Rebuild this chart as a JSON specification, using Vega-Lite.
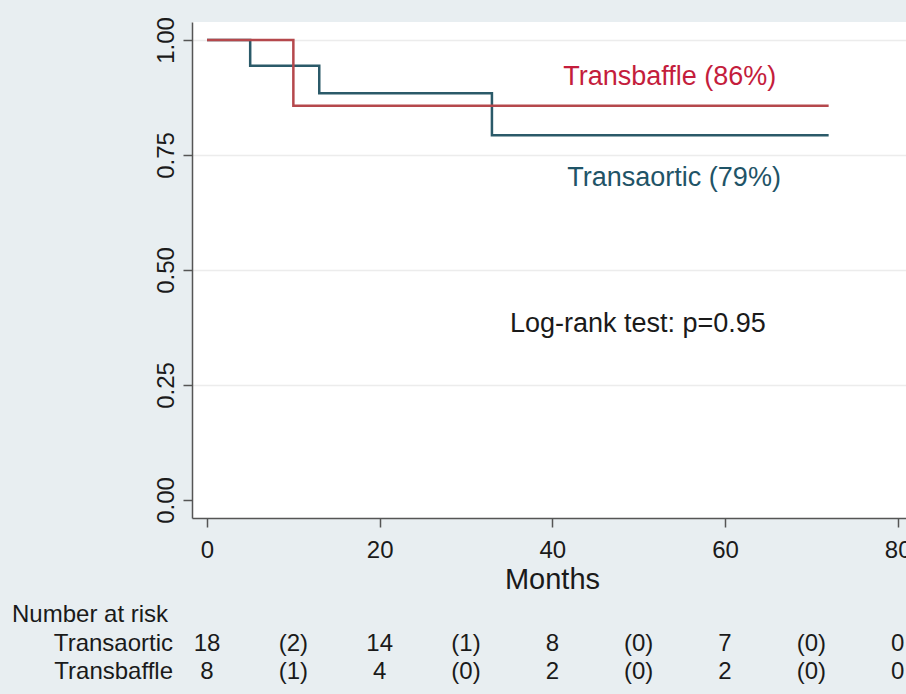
{
  "$schema": "https://vega.github.io/schema/vega-lite/v6.json",
  "width": 714,
  "height": 496,
  "autosize": {"type": "none"},
  "padding": {"left": 192, "top": 22, "right": 0, "bottom": 176},
  "background": "#e8eef1",
  "config": {
    "view": {"stroke": null, "fill": "#ffffff"},
    "font": "Liberation Sans",
    "text": {"font": "Liberation Sans"}
  },
  "datasets": {
    "km": [
      {"group": "Transaortic", "month": 0, "survival": 1.0},
      {"group": "Transaortic", "month": 5, "survival": 0.944},
      {"group": "Transaortic", "month": 13, "survival": 0.884},
      {"group": "Transaortic", "month": 33, "survival": 0.793},
      {"group": "Transaortic", "month": 72, "survival": 0.793},
      {"group": "Transbaffle", "month": 0, "survival": 1.0},
      {"group": "Transbaffle", "month": 10, "survival": 0.857},
      {"group": "Transbaffle", "month": 72, "survival": 0.857}
    ],
    "risk": [
      {"group": "Transaortic", "month": 0, "n": "18"},
      {"group": "Transaortic", "month": 10, "n": "(2)"},
      {"group": "Transaortic", "month": 20, "n": "14"},
      {"group": "Transaortic", "month": 30, "n": "(1)"},
      {"group": "Transaortic", "month": 40, "n": "8"},
      {"group": "Transaortic", "month": 50, "n": "(0)"},
      {"group": "Transaortic", "month": 60, "n": "7"},
      {"group": "Transaortic", "month": 70, "n": "(0)"},
      {"group": "Transaortic", "month": 80, "n": "0"},
      {"group": "Transbaffle", "month": 0, "n": "8"},
      {"group": "Transbaffle", "month": 10, "n": "(1)"},
      {"group": "Transbaffle", "month": 20, "n": "4"},
      {"group": "Transbaffle", "month": 30, "n": "(0)"},
      {"group": "Transbaffle", "month": 40, "n": "2"},
      {"group": "Transbaffle", "month": 50, "n": "(0)"},
      {"group": "Transbaffle", "month": 60, "n": "2"},
      {"group": "Transbaffle", "month": 70, "n": "(0)"},
      {"group": "Transbaffle", "month": 80, "n": "0"}
    ],
    "groups": [
      {"group": "Transaortic"},
      {"group": "Transbaffle"}
    ],
    "header": [
      {"group": "Number at risk"}
    ]
  },
  "layer": [
    {
      "layer": [
        {
          "data": {"name": "km"},
          "mark": {"type": "line", "interpolate": "step-after", "strokeWidth": 2.5},
          "encoding": {
            "x": {
              "field": "month",
              "type": "quantitative",
              "scale": {"domain": [-1.74, 80.96], "nice": false, "zero": false},
              "axis": {
                "values": [0, 20, 40, 60, 80],
                "title": "Months",
                "titleFontSize": 29,
                "titleFontWeight": "normal",
                "titleColor": "#1a1a1a",
                "titleX": 360,
                "titleY": 70,
                "titleAlign": "center",
                "titleBaseline": "alphabetic",
                "labelFontSize": 24,
                "labelColor": "#1a1a1a",
                "labelPadding": 11,
                "labelBaseline": "top",
                "labelFlush": false,
                "labelOverlap": false,
                "tickSize": 9,
                "tickColor": "#555555",
                "tickWidth": 1.5,
                "domainColor": "#555555",
                "domainWidth": 1.5,
                "grid": false
              }
            },
            "y": {
              "field": "survival",
              "type": "quantitative",
              "scale": {"domain": [-0.0391, 1.0391], "nice": false, "zero": false},
              "axis": {
                "values": [0, 0.25, 0.5, 0.75, 1],
                "format": ".2f",
                "title": null,
                "labelAngle": -90,
                "labelAlign": "center",
                "labelBaseline": "alphabetic",
                "labelPadding": 10,
                "labelFontSize": 24,
                "labelColor": "#1a1a1a",
                "labelFlush": false,
                "labelOverlap": false,
                "tickSize": 9,
                "tickColor": "#555555",
                "tickWidth": 1.5,
                "domainColor": "#555555",
                "domainWidth": 1.5,
                "grid": true,
                "gridColor": {"condition": {"test": "datum.value == 0", "value": "transparent"}, "value": "#ececec"},
                "gridWidth": 1.5
              }
            },
            "color": {
              "field": "group",
              "type": "nominal",
              "scale": {"domain": ["Transaortic", "Transbaffle"], "range": ["#2b5a69", "#b5484c"]},
              "legend": null
            }
          }
        },
        {
          "data": {"values": [{"label": "Transbaffle (86%)"}]},
          "mark": {"type": "text", "fontSize": 27, "color": "#c41d3c", "align": "center", "baseline": "middle"},
          "encoding": {
            "x": {"datum": 53.6, "type": "quantitative"},
            "y": {"datum": 0.92, "type": "quantitative"},
            "text": {"field": "label"}
          }
        },
        {
          "data": {"values": [{"label": "Transaortic (79%)"}]},
          "mark": {"type": "text", "fontSize": 27, "color": "#1f5467", "align": "center", "baseline": "middle"},
          "encoding": {
            "x": {"datum": 54.1, "type": "quantitative"},
            "y": {"datum": 0.70, "type": "quantitative"},
            "text": {"field": "label"}
          }
        },
        {
          "data": {"values": [{"label": "Log-rank test: p=0.95"}]},
          "mark": {"type": "text", "fontSize": 27, "color": "#1a1a1a", "align": "center", "baseline": "middle"},
          "encoding": {
            "x": {"datum": 49.9, "type": "quantitative"},
            "y": {"datum": 0.383, "type": "quantitative"},
            "text": {"field": "label"}
          }
        }
      ]
    },
    {
      "layer": [
        {
          "data": {"name": "risk"},
          "mark": {"type": "text", "fontSize": 24, "color": "#1a1a1a", "align": "center", "baseline": "middle"},
          "encoding": {
            "x": {"field": "month", "type": "quantitative"},
            "y": {
              "field": "group",
              "type": "nominal",
              "scale": {"type": "point", "domain": ["Number at risk", "Transaortic", "Transbaffle"], "range": [593, 650], "padding": 0},
              "axis": null
            },
            "text": {"field": "n"}
          }
        },
        {
          "data": {"name": "groups"},
          "mark": {"type": "text", "fontSize": 24, "color": "#1a1a1a", "align": "right", "baseline": "middle", "dx": -34},
          "encoding": {
            "x": {"datum": 0, "type": "quantitative"},
            "y": {"field": "group", "type": "nominal"},
            "text": {"field": "group"}
          }
        },
        {
          "data": {"name": "header"},
          "mark": {"type": "text", "fontSize": 24, "color": "#1a1a1a", "align": "left", "baseline": "middle", "dx": -195},
          "encoding": {
            "x": {"datum": 0, "type": "quantitative"},
            "y": {"field": "group", "type": "nominal"},
            "text": {"field": "group"}
          }
        }
      ]
    }
  ],
  "resolve": {"scale": {"y": "independent"}}
}
